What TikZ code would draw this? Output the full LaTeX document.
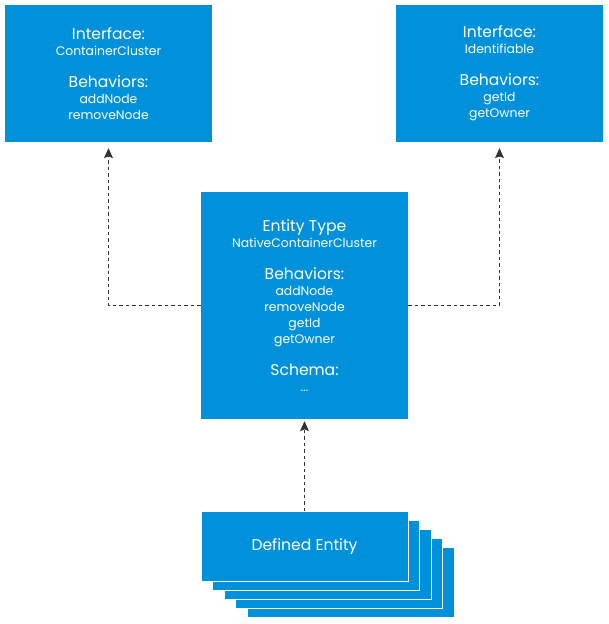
\documentclass[tikz,border=0pt]{standalone}
\usepackage{fontspec}
\setmainfont{Poppins}
\usetikzlibrary{arrows.meta}
\definecolor{vblue}{HTML}{0091DA}
\definecolor{vgray}{HTML}{333333}
\newcommand{\hd}[1]{{\fontsize{15.6}{16}\selectfont #1}}
\tikzset{
	box/.style={fill=vblue, text=white, align=center, inner sep=0pt,
		minimum width=207pt, font=\fontsize{12.4}{16}\selectfont},
	card/.style={box, draw=white, line width=1pt, minimum height=70pt},
	link/.style={vgray, line width=0.9pt, dash pattern=on 3.5pt off 3pt,
		-{Stealth[length=10pt, width=9pt, inset=2pt]}}
}

\begin{document}
\begin{tikzpicture}[x=1pt, y=-1pt]
		\useasboundingbox[fill=white] (0,0) rectangle (608,624);
		% interfaces
		\node[box, minimum height=137pt] (container) at (108.5,73.5)
			{\hd{Interface:}\\ ContainerCluster\\[16pt] \hd{Behaviors:}\\ addNode\\ removeNode};
		\node[box, minimum height=137pt] (ident) at (499.5,73.5)
			{\hd{Interface:}\\ Identifiable\\[16pt] \hd{Behaviors:}\\ getId\\ getOwner};
		% entity type
		\node[box, minimum height=227pt] (type) at (304.5,305.5)
			{\hd{Entity Type}\\ NativeContainerCluster\\[16pt] \hd{Behaviors:}\\ addNode\\ removeNode\\ getId\\ getOwner\\[16pt] \hd{Schema:}\\ ...};
		% stack of defined entities
		\foreach \i in {4,...,1}
		{
			\node[card] (card\i) at (304.5+11.6*\i,546.5+9*\i) {};
		}
		\node[card] (entity) at (304.5,546.5) {\hd{Defined Entity}};
		% implements
		\draw[link, shorten >=6pt] (type.west) -| (container.south);
		\draw[link, shorten >=6pt] (type.east) -| (ident.south);
		% instance of
		\draw[link, shorten >=2pt] (entity.north) -- (type.south);
	\end{tikzpicture}
\end{document}
